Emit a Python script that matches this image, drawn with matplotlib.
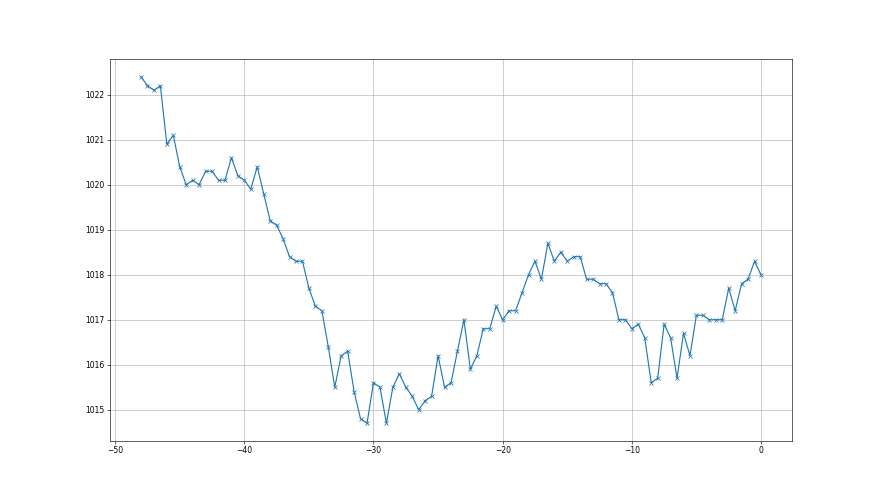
import numpy as np
import matplotlib
matplotlib.use("Agg")
import matplotlib.pyplot as plt

hours = np.arange(-48, 0.01, 0.5)
pressure = [
    1022.4, 1022.2, 1022.1, 1022.2, 1020.9, 1021.1, 1020.4, 1020.0, 1020.1, 1020.0,
    1020.3, 1020.3, 1020.1, 1020.1, 1020.6, 1020.2, 1020.1, 1019.9, 1020.4, 1019.8,
    1019.2, 1019.1, 1018.8, 1018.4, 1018.3, 1018.3, 1017.7, 1017.3, 1017.2, 1016.4,
    1015.5, 1016.2, 1016.3, 1015.4, 1014.8, 1014.7, 1015.6, 1015.5, 1014.7, 1015.5,
    1015.8, 1015.5, 1015.3, 1015.0, 1015.2, 1015.3, 1016.2, 1015.5, 1015.6, 1016.3,
    1017.0, 1015.9, 1016.2, 1016.8, 1016.8, 1017.3, 1017.0, 1017.2, 1017.2, 1017.6,
    1018.0, 1018.3, 1017.9, 1018.7, 1018.3, 1018.5, 1018.3, 1018.4, 1018.4, 1017.9,
    1017.9, 1017.8, 1017.8, 1017.6, 1017.0, 1017.0, 1016.8, 1016.9, 1016.6, 1015.6,
    1015.7, 1016.9, 1016.6, 1015.7, 1016.7, 1016.2, 1017.1, 1017.1, 1017.0, 1017.0,
    1017.0, 1017.7, 1017.2, 1017.8, 1017.9, 1018.3, 1018.0,
]

fig, ax = plt.subplots(figsize=(16, 9), dpi=55)
ax.plot(hours, pressure, marker="x", color="#1f77b4")
ax.grid(True)
fig.savefig("out.png", dpi=55)
